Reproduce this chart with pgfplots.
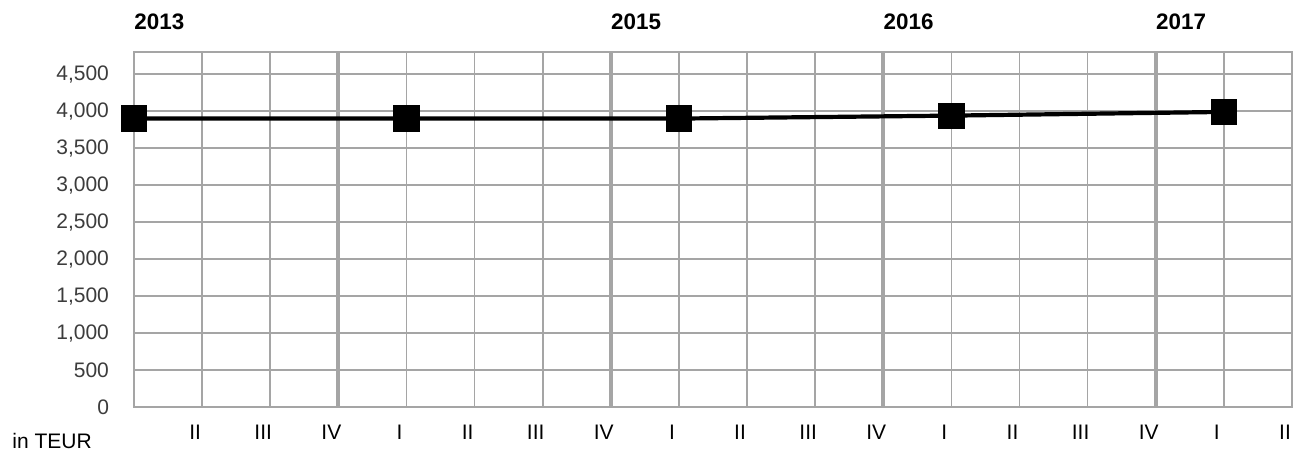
\documentclass[border=0pt]{standalone}
\usepackage{pgfplots}
\pgfplotsset{compat=1.18}
\usepackage{fontspec}
\setmainfont{Liberation Sans}
\definecolor{gridgray}{RGB}{165,165,165}
\definecolor{labgray}{RGB}{60,60,60}
\begin{document}
\begin{tikzpicture}
\useasboundingbox (0,0) rectangle (654pt,226pt);
\begin{axis}[
  at={(67pt,22.5pt)}, anchor=south west,
  scale only axis, width=579pt, height=177.5pt,
  xmin=0, xmax=17, ymin=0, ymax=4800,
  clip=false,
  axis line style={gridgray, line width=0.9pt},
  major tick length=0pt,
  xtick={0,...,17},
  xticklabels={,II,III,IV,I,II,III,IV,I,II,III,IV,I,II,III,IV,I,II},
  extra x ticks={3,7,11,15},
  extra x tick labels={},
  extra x tick style={grid style={gridgray, line width=2pt}},
  ytick={0,500,...,4500},
  grid=major,
  grid style={gridgray, line width=0.8pt},
  /pgf/number format/.cd, 1000 sep={,}, assume math mode=true,
  /pgfplots/.cd,
  yticklabel style={font=\fontsize{10.5}{12}\selectfont, text=labgray, xshift=-9pt},
  xticklabel style={font=\fontsize{10.5}{12}\selectfont, text=black, yshift=-5.5pt, xshift=-3.5pt},
]
\addplot[black, line width=2.1pt, mark=square*, mark size=5.5pt, mark options={solid, fill=black}]
  coordinates {(0,3900) (4,3900) (8,3900) (12,3940) (16,3990)};
\node[anchor=west, inner sep=0pt, font=\bfseries\fontsize{11.2}{13}\selectfont] at (rel axis cs:0,1) [yshift=15pt] {2013};
\node[anchor=west, inner sep=0pt, font=\bfseries\fontsize{11.2}{13}\selectfont] at (axis cs:7,4800) [yshift=15pt] {2015};
\node[anchor=west, inner sep=0pt, font=\bfseries\fontsize{11.2}{13}\selectfont] at (axis cs:11,4800) [yshift=15pt] {2016};
\node[anchor=west, inner sep=0pt, font=\bfseries\fontsize{11.2}{13}\selectfont] at (axis cs:15,4800) [yshift=15pt] {2017};
\node[anchor=west, inner sep=0pt, font=\fontsize{10.5}{12}\selectfont] at (rel axis cs:0,0) [xshift=-61pt, yshift=-17pt] {in TEUR};
\end{axis}
\end{tikzpicture}
\end{document}
